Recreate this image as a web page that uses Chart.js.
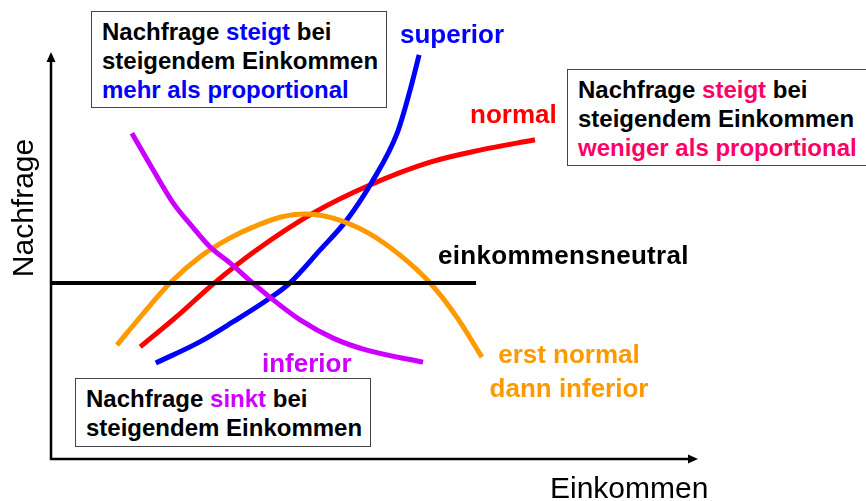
<!DOCTYPE html>
<html>
<head>
<meta charset="utf-8">
<script src="https://cdn.jsdelivr.net/npm/chart.js@4"></script>
<style>
  body { margin:0; background:#fff; font-family:"Liberation Sans", Arial, sans-serif; }
  #wrap { position:relative; width:866px; height:501px; overflow:hidden; }
  #chart { position:absolute; left:0; top:0; }
  .box { position:absolute; border:1.5px solid #444; background:#fff; box-sizing:border-box;
         font-weight:bold; font-size:24px; line-height:29px; color:#000; padding:5px 0 0 10px; white-space:nowrap; }
  .lbl { position:absolute; font-weight:bold; font-size:26px; line-height:26px; white-space:nowrap; }
  .axis { position:absolute; font-size:30px; line-height:30px; color:#000; white-space:nowrap; }
</style>
</head>
<body>
<div id="wrap">
  <canvas id="chart" width="866" height="501"></canvas>

  <div class="box" style="left:91px;top:11px;width:296px;height:97px;">
    Nachfrage <span style="color:#0000ff">steigt</span> bei<br>steigendem Einkommen<br><span style="color:#0000ff">mehr als proportional</span>
  </div>
  <div class="box" style="left:567px;top:69px;width:300px;height:97px;">
    Nachfrage <span style="color:#ff0066">steigt</span> bei<br>steigendem Einkommen<br><span style="color:#ff0066">weniger als proportional</span>
  </div>
  <div class="box" style="left:75px;top:378px;width:296px;height:69px;">
    Nachfrage <span style="color:#cc00ff">sinkt</span> bei<br>steigendem Einkommen
  </div>

  <div class="lbl" style="left:400px;top:21px;color:#0000ff;">superior</div>
  <div class="lbl" style="left:470px;top:101px;color:#ff0000;">normal</div>
  <div class="lbl" style="left:438px;top:242px;color:#000;letter-spacing:0.3px;">einkommensneutral</div>
  <div class="lbl" style="left:262px;top:350px;color:#cc00ff;">inferior</div>
  <div class="lbl" style="left:469px;top:337px;width:200px;text-align:center;line-height:34px;color:#ff9900;">erst normal<br>dann inferior</div>

  <div class="axis" style="left:550px;top:473px;">Einkommen</div>
  <div class="axis" style="left:-77px;top:193px;width:200px;text-align:center;transform:rotate(-90deg);">Nachfrage</div>
</div>

<script>
// Einkommen (x) / Nachfrage (y), both on a 0..10 scale
const superiorX = [1.62, 2.30, 2.81, 3.34, 3.69, 4.16, 4.57, 4.96, 5.35, 5.55, 5.69];
const superiorY = [2.32, 2.83, 3.31, 3.84, 4.25, 5.05, 5.77, 6.69, 7.87, 8.91, 9.76];

const normalX = [1.38, 1.95, 2.50, 3.15, 4.05, 4.93, 5.86, 6.63, 7.48];
const normalY = [2.71, 3.45, 4.22, 5.02, 5.94, 6.62, 7.17, 7.46, 7.71];

const inferiorX = [1.25, 1.58, 1.89, 2.19, 2.46, 2.77, 3.12, 3.38, 3.85, 4.36, 4.88, 5.75];
const inferiorY = [7.87, 6.98, 6.18, 5.60, 5.12, 4.73, 4.25, 3.91, 3.36, 2.92, 2.63, 2.34];

const erstNormalX = [1.02, 1.38, 1.84, 2.30, 2.77, 3.12, 3.54, 3.93, 4.36, 4.88, 5.39, 5.86, 6.28, 6.66];
const erstNormalY = [2.75, 3.43, 4.25, 4.88, 5.34, 5.60, 5.84, 5.92, 5.82, 5.48, 4.93, 4.25, 3.41, 2.46];

const neutralX = [0, 6.57];
const neutralY = [4.25, 4.25];

const axisMax = { x: 10, y: 9.83 };

const pts = (xs, ys) => xs.map((x, i) => ({ x, y: ys[i] }));

function curve(xs, ys, color, width) {
  return { data: pts(xs, ys), borderColor: color, borderWidth: width, showLine: true,
           pointRadius: 0, cubicInterpolationMode: 'monotone', fill: false, borderCapStyle: 'butt' };
}

/** Draws the two axes with arrow heads. */
const axesPlugin = {
  id: 'axes',
  beforeDatasetsDraw(chart) {
    const { ctx, scales: { x, y } } = chart;
    const x0 = x.getPixelForValue(0), y0 = y.getPixelForValue(0);
    const x1 = x.getPixelForValue(axisMax.x), y1 = y.getPixelForValue(axisMax.y);
    ctx.save();
    ctx.strokeStyle = '#000'; ctx.fillStyle = '#000'; ctx.lineWidth = 2.5;
    ctx.beginPath();
    ctx.moveTo(x0, y1 + 6); ctx.lineTo(x0, y0); ctx.lineTo(x1 - 6, y0);
    ctx.stroke();
    ctx.beginPath();
    ctx.moveTo(x0, y1); ctx.lineTo(x0 - 4.5, y1 + 10); ctx.lineTo(x0 + 4.5, y1 + 10); ctx.closePath();
    ctx.fill();
    ctx.beginPath();
    ctx.moveTo(x1, y0); ctx.lineTo(x1 - 10, y0 - 4.5); ctx.lineTo(x1 - 10, y0 + 4.5); ctx.closePath();
    ctx.fill();
    ctx.restore();
  }
};

// first dataset is drawn on top
new Chart(document.getElementById('chart'), {
  type: 'scatter',
  data: {
    datasets: [
      curve(neutralX, neutralY, '#000000', 4),
      curve(inferiorX, inferiorY, '#cc00ff', 5),
      curve(erstNormalX, erstNormalY, '#ff9900', 5),
      curve(superiorX, superiorY, '#0000ff', 5),
      curve(normalX, normalY, '#ff0000', 5),
    ],
  },
  options: {
    responsive: false, animation: false,
    layout: { padding: { left: 51, right: 168, top: 45, bottom: 42 } },
    plugins: { legend: { display: false }, tooltip: { enabled: false } },
    scales: {
      x: { type: 'linear', min: 0, max: 10, display: false },
      y: { type: 'linear', min: 0, max: 10, display: false },
    },
  },
  plugins: [axesPlugin],
});
</script>
</body>
</html>
